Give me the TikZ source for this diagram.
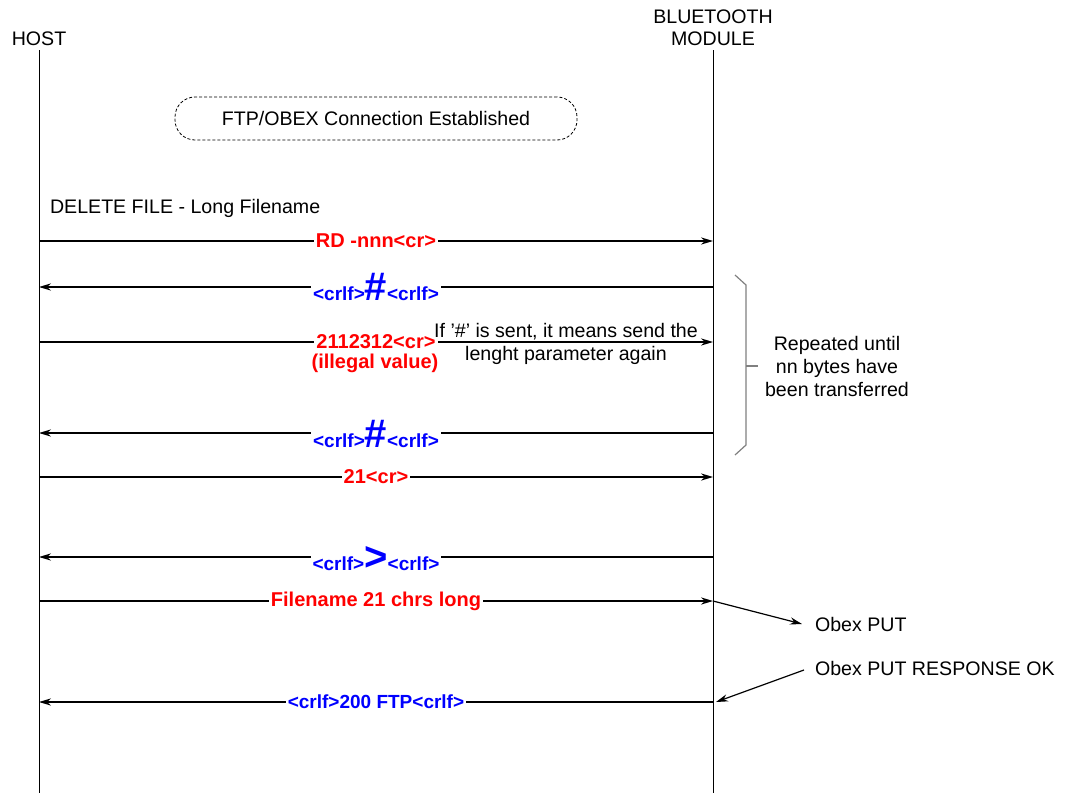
\documentclass[tikz,border=0pt]{standalone}
\usepackage{fontspec}
\setmainfont{Liberation Sans}
\usetikzlibrary{arrows.meta}
\begin{document}
\begin{tikzpicture}[x=0.5pt,y=-0.5pt,
  every node/.style={font=\fontsize{9.8}{11}\selectfont},
  life/.style={line width=0.5pt},
  msg/.style={line width=0.6pt,-{Stealth[length=6pt,width=3.6pt]}},
  redlbl/.style={fill=white,inner sep=1pt,text=red,font=\fontsize{10}{11}\selectfont\bfseries},
  bluelbl/.style={fill=white,inner sep=1pt,text=blue,font=\fontsize{9.5}{11}\selectfont\bfseries},
  note/.style={align=center,font=\fontsize{9.8}{11.5}\selectfont},
  brace/.style={gray,line width=0.6pt}]
\useasboundingbox (0,0) rectangle (1067,793);
% lifelines
\node (host) at (39,39) {HOST};
\node[align=center] (mod) at (713,28) {BLUETOOTH\\MODULE};
\coordinate (htop) at (39,50); \coordinate (hbot) at (39,793);
\coordinate (mtop) at (713,50); \coordinate (mbot) at (713,793);
\draw[life] (htop) -- (hbot);
\draw[life] (mtop) -- (mbot);
% connection box
\node[draw,dashed,dash pattern=on 1.5pt off 1pt,rounded corners=10pt,minimum width=201pt,minimum height=21.5pt] (conn) at (376,118.5) {FTP/OBEX Connection Established};
\node[anchor=west] (del) at (43,208) {DELETE FILE - Long Filename};
% message coordinates
\coordinate (h1) at (39,241); \coordinate (m1) at (713,241);
\coordinate (h2) at (39,287); \coordinate (m2) at (713,287);
\coordinate (h3) at (39,342); \coordinate (m3) at (713,342);
\coordinate (h4) at (39,433); \coordinate (m4) at (713,433);
\coordinate (h5) at (39,477); \coordinate (m5) at (713,477);
\coordinate (h6) at (39,557); \coordinate (m6) at (713,557);
\coordinate (h7) at (39,601); \coordinate (m7) at (713,601);
\coordinate (h8) at (39,702); \coordinate (m8) at (713,702);
% messages
\draw[msg] (h1) -- node[redlbl] (l1) {RD -nnn<cr>} (m1);
\draw[msg] (m2) -- node[bluelbl,anchor=base,yshift=-6.5pt] (l2) {<crlf>{\fontsize{20}{20}\selectfont\#}<crlf>} (h2);
\draw[msg] (h3) -- node[redlbl] (l3) {2112312<cr>} (m3);
\node[text=red,font=\fontsize{10}{11}\selectfont\bfseries] (l3b) at (375,363) {(illegal value)};
\node[note] (ifnote) at (566,343.5) {If \symbol{39}\#\symbol{39} is sent, it means send the\\lenght parameter again};
\draw[msg] (m4) -- node[bluelbl,anchor=base,yshift=-7pt] (l4) {<crlf>{\fontsize{20}{20}\selectfont\#}<crlf>} (h4);
\draw[msg] (h5) -- node[redlbl] (l5) {21<cr>} (m5);
\draw[msg] (m6) -- node[bluelbl,anchor=base,yshift=-6.5pt] (l6) {<crlf>{\fontsize{20}{20}\selectfont >}<crlf>} (h6);
\draw[msg] (h7) -- node[redlbl] (l7) {Filename 21 chrs long} (m7);
\draw[msg] (m8) -- node[bluelbl] (l8) {<crlf>200 FTP<crlf>} (h8);
% repeat brace
\coordinate (b1) at (735,275); \coordinate (b2) at (746,285);
\coordinate (b3) at (746,445); \coordinate (b4) at (735,455);
\coordinate (bm) at (746,366); \coordinate (bt) at (758,366);
\draw[brace] (b1) -- (b2) -- (b3) -- (b4);
\draw[brace] (bm) -- (bt);
\node[note] (rep) at (837,366) {Repeated until\\nn bytes have\\been transferred};
% obex notes
\node[anchor=west] (put) at (808,624) {Obex PUT};
\node[anchor=west] (resp) at (808,668) {Obex PUT RESPONSE OK};
\draw[msg] (m7) -- ([xshift=-3pt]put.west);
\draw[msg] ([xshift=-2pt,yshift=-1pt]resp.west) -- ([xshift=1.5pt]m8);
\end{tikzpicture}
\end{document}
